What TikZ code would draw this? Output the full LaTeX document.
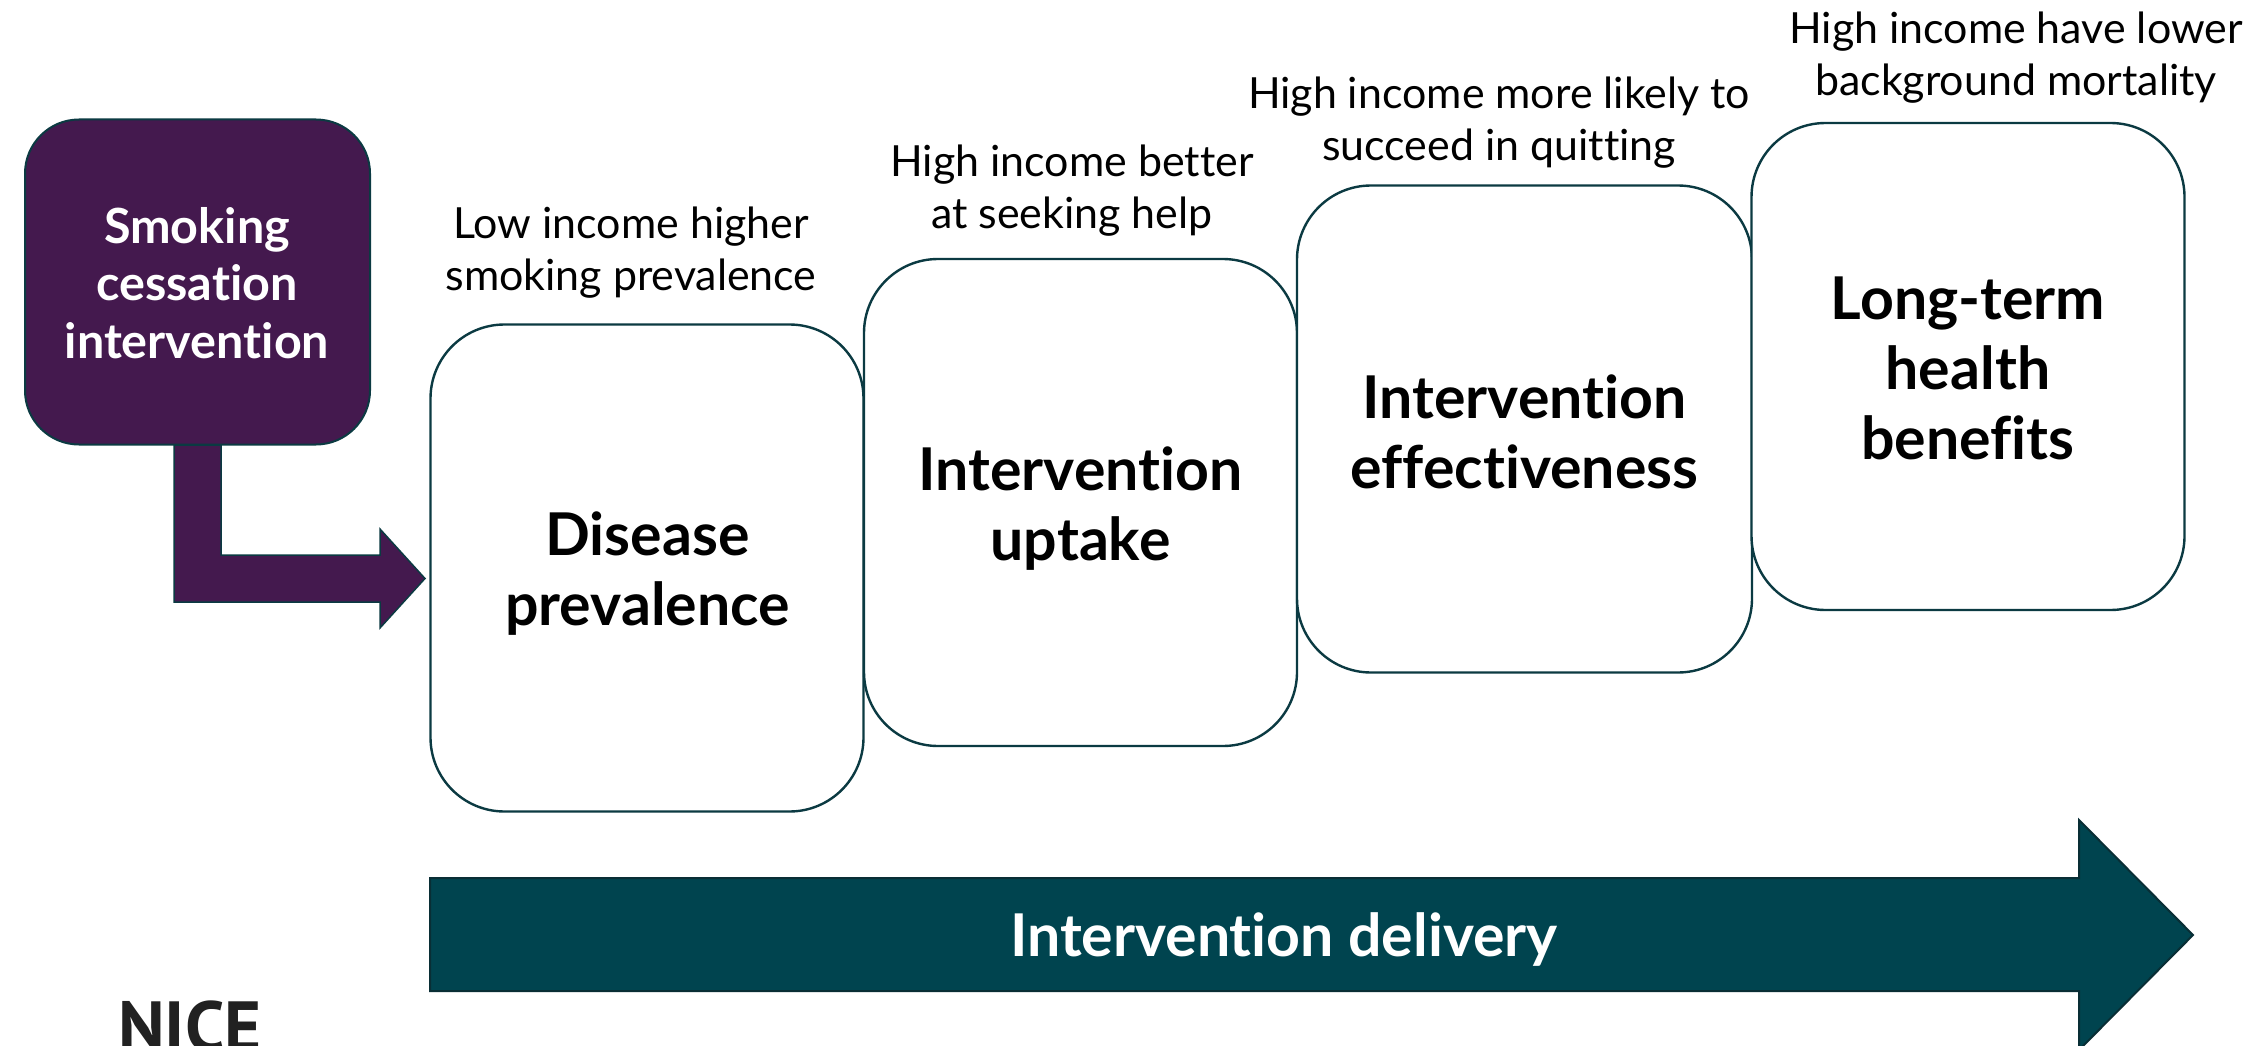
\documentclass[tikz,border=0pt]{standalone}
\usepackage{fontspec}
\setmainfont{Lato}[Ligatures=NoCommon]
\newfontfamily\logofont{PT Sans}
\usetikzlibrary{positioning,calc}
\definecolor{plum}{HTML}{44194E}
\definecolor{teal}{HTML}{00444F}
\definecolor{edge}{HTML}{0B3A42}
\tikzset{
  stage/.style={draw=edge,line width=2.4pt,fill=white,rounded corners=74pt,inner sep=0pt,outer sep=0pt},
  stagetext/.style={inner sep=0pt,align=center,font=\fontsize{59}{70}\selectfont\bfseries,text=black},
  note/.style={inner sep=0pt,align=center,font=\fontsize{42.9}{51.5}\selectfont,text=black},
  starter/.style={draw=edge,line width=2pt,fill=plum,rounded corners=54pt,inner sep=0pt,outer sep=0pt},
  startertext/.style={inner sep=0pt,align=center,text=white,font=\fontsize{48.5}{57.5}\selectfont\bfseries},
  blockplum/.style={draw=edge,line width=1.5pt,fill=plum,line join=miter},
  blockteal/.style={draw=edge!80!black,line width=2pt,fill=teal,line join=miter},
}
\begin{document}
\begin{tikzpicture}[x=1pt,y=-1pt]
\useasboundingbox[clip] (0,0) rectangle (2255,1046);
\fill[white] (0,0) rectangle (2255,1046);
% big arrow
\draw[blockteal] (430,878) -- (2079,878) -- (2079,820) -- (2193,935) -- (2079,1050) -- (2079,991) -- (430,991) -- cycle;
\node[inner sep=0pt,text=white,font=\fontsize{59}{70}\selectfont\bfseries] (delivery) at (1284,940) {Intervention delivery};
% stages
\node[stage,minimum width=433pt,minimum height=487pt] (prev) at (647,568) {};
\node[stage,minimum width=433pt,minimum height=487pt] (uptake) at (1080.5,502.5) {};
\node[stage,minimum width=455pt,minimum height=487pt] (eff) at (1524.5,429) {};
\node[stage,minimum width=433pt,minimum height=487pt] (ben) at (1968,366.5) {};
\node[stagetext] (prevt) at (647.5,573.5) {Disease\\prevalence};
\node[stagetext] (uptaket) at (1080.5,509) {Intervention\\uptake};
\node[stagetext] (efft) at (1524.5,431.5) {Intervention\\effectiveness};
\node[stagetext] (bent) at (1968,368) {Long-term\\health\\benefits};
% starter
\node[starter,minimum width=345pt,minimum height=325pt] (start) at (197.5,282) {};
\node[startertext] (startt) at (197,283) {Smoking\\cessation\\intervention};
% bent arrow
\draw[blockplum] (174,445) -- (221,445) -- (221,555) -- (380,555) -- (380,529) -- (425,578.5) -- (380,628) -- (380,602) -- (174,602) -- cycle;
% notes
\node[note] (n1) at (631,252.5) {Low income higher\\smoking prevalence};
\node[note] (n2) at (1072,190.5) {High income better\\at seeking help};
\node[note] (n3) at (1499,122.5) {High income more likely to\\succeed in quitting};
\node[note] (n4) at (2016,57.5) {High income have lower\\background mortality};
\node[inner sep=0pt,anchor=base,text=black!87,font=\logofont\fontsize{71}{71}\selectfont\bfseries] (nice) at (190,1051) {NICE};
\end{tikzpicture}
\end{document}
